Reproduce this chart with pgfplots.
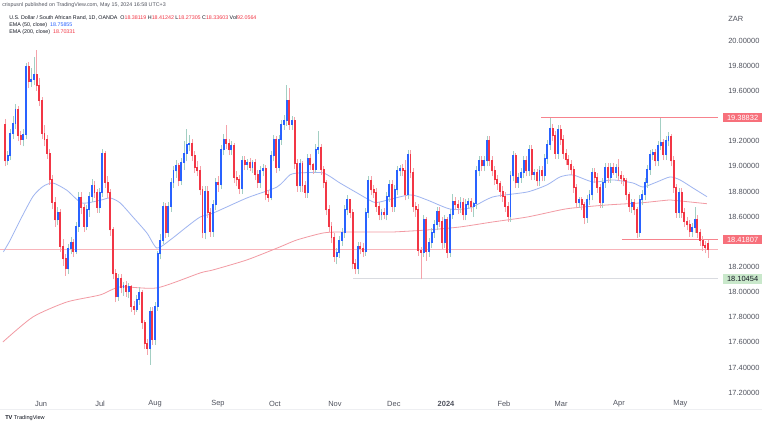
\documentclass[border=0pt]{standalone}
\usepackage{fontspec}
\setmainfont{Liberation Sans}
\usepackage{pgfplots}
\pgfplotsset{compat=1.18}
\usepackage{pgfplotstable}
\definecolor{upc}{HTML}{2962FF}
\definecolor{dnc}{HTML}{F23645}
\definecolor{upw}{HTML}{A3CFC3}
\definecolor{dnw}{HTML}{F5A3AA}
\definecolor{ema50}{HTML}{9FB5F0}
\definecolor{ema200}{HTML}{F29AA3}
\definecolor{tvtext}{HTML}{131722}
\definecolor{tvgray}{HTML}{50535E}
\definecolor{tagred}{HTML}{F7707B}
\definecolor{taggreen}{HTML}{C9E8CB}
\definecolor{levelpink}{HTML}{F7838D}
\definecolor{lastpink}{HTML}{F8B4BA}
\definecolor{levelgrey}{HTML}{D9DBE0}
\definecolor{sepgrey}{HTML}{EEEFF2}

% columns: d = 1 for a rising (blue) candle, 0 for a falling (red) one; o h l c
\pgfplotstableread{
d o h l c
0 19.33 19.38 19.00 19.04
1 19.04 19.12 19.01 19.08
1 19.08 19.30 19.05 19.26
1 19.26 19.40 19.22 19.34
1 19.34 19.50 19.30 19.45
0 19.45 19.48 19.20 19.24
0 19.24 19.28 19.17 19.21
1 19.21 19.30 19.16 19.25
1 19.25 19.82 19.22 19.79
0 19.79 19.83 19.62 19.67
1 19.67 19.78 19.63 19.69
1 19.69 19.87 19.65 19.73
0 19.73 19.93 19.60 19.64
0 19.64 19.70 19.48 19.52
0 19.52 19.55 19.22 19.26
0 19.26 19.33 19.16 19.21
0 19.21 19.25 19.06 19.10
0 19.10 19.14 18.85 18.89
0 18.89 18.93 18.66 18.71
0 18.71 18.76 18.52 18.57
1 18.57 18.68 18.53 18.63
0 18.63 18.66 18.32 18.36
0 18.36 18.42 18.21 18.26
0 18.26 18.30 18.13 18.18
1 18.18 18.38 18.14 18.34
1 18.34 18.44 18.30 18.39
0 18.39 18.42 18.28 18.32
1 18.32 18.56 18.30 18.52
1 18.52 18.80 18.48 18.75
0 18.75 18.80 18.62 18.67
0 18.67 18.70 18.48 18.52
1 18.52 18.69 18.49 18.65
1 18.65 18.80 18.60 18.76
1 18.76 18.90 18.72 18.84
0 18.84 18.88 18.75 18.79
0 18.79 18.82 18.63 18.67
1 18.67 18.83 18.63 18.79
1 18.79 19.14 18.76 19.10
0 19.10 19.12 18.83 18.87
0 18.87 18.92 18.75 18.79
0 18.79 18.82 18.45 18.49
0 18.49 18.52 18.10 18.14
0 18.14 18.18 17.92 17.96
1 17.96 18.14 17.93 18.10
0 18.10 18.14 17.99 18.03
1 18.03 18.08 17.97 18.05
0 18.05 18.09 17.96 18.00
1 18.00 18.07 17.95 18.04
0 18.04 18.06 17.84 17.88
0 17.88 17.93 17.82 17.86
1 17.86 17.98 17.84 17.94
1 17.94 18.04 17.90 17.99
0 17.99 18.02 17.71 17.75
0 17.75 17.78 17.55 17.59
0 17.59 17.63 17.50 17.55
1 17.55 17.88 17.42 17.84
0 17.84 17.88 17.58 17.62
1 17.62 17.92 17.58 17.88
1 17.88 18.33 17.85 18.30
1 18.30 18.46 18.26 18.41
1 18.41 18.72 18.38 18.68
0 18.68 18.71 18.43 18.47
1 18.47 18.72 18.44 18.68
1 18.68 18.91 18.64 18.87
1 18.87 19.00 18.83 18.96
1 18.96 19.05 18.91 19.00
0 19.00 19.03 18.84 18.88
1 18.88 19.07 18.85 19.03
1 19.03 19.20 18.97 19.10
1 19.10 19.30 19.04 19.17
1 19.17 19.25 19.12 19.18
0 19.18 19.22 19.04 19.08
0 19.08 19.12 18.95 18.99
0 18.99 19.04 18.92 18.96
0 18.96 19.00 18.77 18.81
0 18.81 18.84 18.43 18.47
1 18.47 18.84 18.42 18.80
0 18.80 18.84 18.59 18.63
0 18.63 18.67 18.44 18.48
1 18.48 18.73 18.44 18.69
1 18.69 18.91 18.65 18.87
0 18.87 18.92 18.80 18.85
1 18.85 19.17 18.82 19.13
1 19.13 19.26 19.09 19.21
0 19.21 19.33 19.14 19.18
0 19.18 19.22 19.09 19.13
1 19.13 19.20 19.09 19.16
0 19.16 19.19 18.87 18.91
0 18.91 18.96 18.84 18.89
0 18.89 18.93 18.78 18.82
1 18.82 19.08 18.78 19.04
0 19.04 19.08 18.97 19.01
1 19.01 19.06 18.97 19.03
0 19.03 19.07 18.96 18.99
1 18.99 19.05 18.95 19.03
0 19.03 19.06 18.89 18.93
0 18.93 18.97 18.83 18.87
1 18.87 19.00 18.83 18.96
1 18.96 19.02 18.92 18.98
0 18.98 19.01 18.73 18.77
0 18.77 18.81 18.72 18.75
1 18.75 19.12 18.73 19.08
1 19.08 19.25 19.04 19.21
0 19.21 19.24 18.95 18.99
1 18.99 19.25 18.96 19.21
1 19.21 19.37 19.17 19.33
1 19.33 19.41 19.29 19.36
1 19.36 19.65 19.32 19.52
0 19.52 19.62 19.29 19.33
1 19.33 19.40 19.29 19.36
0 19.36 19.39 18.98 19.02
0 19.02 19.06 18.80 18.84
1 18.84 19.06 18.80 19.02
0 19.02 19.04 18.80 18.84
0 18.84 18.88 18.75 18.79
1 18.79 19.10 18.75 19.06
0 19.06 19.10 18.97 19.01
0 19.01 19.03 18.94 18.97
1 18.97 19.18 18.95 19.13
1 19.13 19.28 19.10 19.15
0 19.15 19.18 18.93 18.97
0 18.97 19.00 18.83 18.87
0 18.87 18.89 18.61 18.65
0 18.65 18.69 18.48 18.52
0 18.52 18.56 18.39 18.43
0 18.43 18.47 18.24 18.28
1 18.28 18.35 18.22 18.31
1 18.31 18.45 18.27 18.41
1 18.41 18.51 18.37 18.47
1 18.47 18.69 18.43 18.65
1 18.65 18.77 18.61 18.73
0 18.73 18.74 18.59 18.63
0 18.63 18.66 18.18 18.22
0 18.22 18.26 18.14 18.18
1 18.18 18.40 18.14 18.36
0 18.36 18.40 18.30 18.34
0 18.34 18.39 18.28 18.32
1 18.32 18.67 18.29 18.63
1 18.63 18.92 18.59 18.88
0 18.88 18.92 18.77 18.81
0 18.81 18.85 18.75 18.79
0 18.79 18.83 18.64 18.68
0 18.68 18.72 18.57 18.61
1 18.61 18.66 18.57 18.63
0 18.63 18.67 18.58 18.61
1 18.61 18.80 18.57 18.76
1 18.76 18.89 18.72 18.85
0 18.85 18.89 18.64 18.68
1 18.68 18.85 18.64 18.81
1 18.81 19.00 18.77 18.96
1 18.96 19.01 18.92 18.98
0 18.98 19.02 18.92 18.96
0 18.96 19.05 18.73 18.77
1 18.77 19.13 18.74 19.09
0 19.09 19.13 18.91 18.95
0 18.95 18.99 18.64 18.68
0 18.68 18.72 18.60 18.65
0 18.65 18.70 18.29 18.33
0 18.33 18.36 18.10 18.31
1 18.31 18.61 18.28 18.57
0 18.57 18.60 18.25 18.32
1 18.32 18.43 18.28 18.39
1 18.39 18.51 18.35 18.47
1 18.47 18.57 18.43 18.53
1 18.53 18.68 18.49 18.64
0 18.64 18.68 18.52 18.56
0 18.56 18.60 18.34 18.39
1 18.39 18.61 18.35 18.57
0 18.57 18.60 18.27 18.31
1 18.31 18.66 18.28 18.61
1 18.61 18.78 18.58 18.72
0 18.72 18.76 18.65 18.69
0 18.69 18.73 18.62 18.67
1 18.67 18.76 18.63 18.71
0 18.71 18.75 18.57 18.61
1 18.61 18.74 18.57 18.69
1 18.69 18.75 18.66 18.72
0 18.72 18.75 18.64 18.68
1 18.68 18.72 18.60 18.70
1 18.70 19.00 18.66 18.96
1 18.96 19.08 18.92 19.04
0 19.04 19.08 18.96 19.00
1 19.00 19.08 18.96 19.04
1 19.04 19.24 19.00 19.20
0 19.20 19.24 19.00 19.04
0 19.04 19.08 18.92 18.96
0 18.96 19.00 18.85 18.89
0 18.89 18.93 18.81 18.86
0 18.86 18.88 18.76 18.80
0 18.80 18.84 18.72 18.76
0 18.76 18.80 18.64 18.68
0 18.68 18.72 18.56 18.60
1 18.60 18.96 18.56 18.92
1 18.92 19.12 18.88 19.08
0 19.08 19.11 18.83 18.87
1 18.87 18.95 18.83 18.91
1 18.91 18.99 18.87 18.95
1 18.95 19.08 18.91 19.04
0 19.04 19.08 18.92 18.96
1 18.96 19.17 18.92 19.13
0 19.13 19.17 18.89 18.93
1 18.93 18.98 18.89 18.95
0 18.95 18.98 18.84 18.88
1 18.88 19.00 18.84 18.96
0 18.96 19.00 18.88 18.92
1 18.92 19.10 18.88 19.06
1 19.06 19.21 19.02 19.17
1 19.17 19.388 19.13 19.30
0 19.30 19.34 19.20 19.24
0 19.24 19.28 19.06 19.10
1 19.10 19.33 19.06 19.29
0 19.29 19.33 19.17 19.21
0 19.21 19.25 19.06 19.10
0 19.10 19.14 19.01 19.05
0 19.05 19.09 18.97 19.01
0 19.01 19.05 18.93 18.97
0 18.97 19.00 18.79 18.83
0 18.83 18.86 18.67 18.71
1 18.71 18.76 18.67 18.73
0 18.73 18.76 18.65 18.69
0 18.69 18.72 18.54 18.59
1 18.59 18.77 18.55 18.73
1 18.73 18.81 18.69 18.77
1 18.77 18.99 18.73 18.95
0 18.95 18.99 18.87 18.91
0 18.91 18.95 18.79 18.83
0 18.83 18.86 18.67 18.71
1 18.71 18.91 18.67 18.87
1 18.87 19.03 18.83 18.99
0 18.99 19.03 18.87 18.91
1 18.91 19.03 18.87 18.99
0 18.99 19.03 18.93 18.95
1 18.95 19.02 18.91 18.99
0 18.99 19.06 18.88 18.92
0 18.92 18.96 18.86 18.90
0 18.90 18.93 18.84 18.88
0 18.88 18.91 18.73 18.77
0 18.77 18.80 18.64 18.68
1 18.68 18.74 18.63 18.71
0 18.71 18.74 18.61 18.65
0 18.65 18.68 18.43 18.47
1 18.47 18.77 18.44 18.73
1 18.73 18.81 18.69 18.77
1 18.77 18.91 18.73 18.87
1 18.87 19.01 18.83 18.97
1 18.97 19.13 18.93 19.09
1 19.09 19.14 19.05 19.11
0 19.11 19.14 19.00 19.04
1 19.04 19.20 19.00 19.16
1 19.16 19.388 19.13 19.19
0 19.19 19.22 19.05 19.09
1 19.09 19.24 19.05 19.20
1 19.20 19.27 19.16 19.23
0 19.23 19.26 19.00 19.04
0 19.04 19.08 18.79 18.83
0 18.83 18.86 18.59 18.63
1 18.63 18.83 18.59 18.79
0 18.79 18.83 18.59 18.63
0 18.63 18.67 18.52 18.56
0 18.56 18.60 18.49 18.53
0 18.53 18.57 18.44 18.48
1 18.48 18.55 18.44 18.51
1 18.51 18.68 18.47 18.57
0 18.57 18.61 18.43 18.47
0 18.47 18.50 18.37 18.41
0 18.41 18.45 18.33 18.37
0 18.37 18.41 18.31 18.35
0 18.381 18.412 18.273 18.336
}\candles

\begin{document}
\begin{tikzpicture}
\path[use as bounding box, fill=white] (0pt,0pt) rectangle (576pt,320.25pt);
\begin{axis}[
  at={(0pt,23.25pt)}, anchor=south west,
  scale only axis, width=538.5pt, height=297pt,
  xmin=-1.9, xmax=270.8, ymin=17.173, ymax=20.324,
  axis line style={draw=none},
  major tick length=0pt,
  clip=false,
  yticklabel pos=right,
  ytick={17.2,17.4,17.6,17.8,18.0,18.2,18.6,18.8,19.0,19.2,19.6,19.8,20.0},
  yticklabel style={font=\fontsize{5.6}{6}\selectfont, text=tvgray, anchor=west, inner sep=0pt, xshift=7.5pt,
    /pgf/number format/fixed, /pgf/number format/fixed zerofill, /pgf/number format/precision=5,
    /pgf/number format/assume math mode=true},
  xtick={13.7,36.1,57.0,80.9,102.5,125.3,147.7,167.5,189.5,211.2,233.2,256.5},
  xticklabels={Jun,Jul,Aug,Sep,Oct,Nov,Dec,\textbf{2024},Feb,Mar,Apr,May},
  xticklabel style={font=\fontsize{5.6}{6}\selectfont, text=tvgray, anchor=center, inner sep=0pt, yshift=-6pt},
]
% reference lines
\addplot[draw=lastpink, line width=0.8pt] coordinates {(-1.9,18.336) (270.8,18.336)};
\addplot[draw=levelgrey, line width=0.8pt] coordinates {(132.2,18.10454) (270.8,18.10454)};
\addplot[draw=levelpink, line width=0.8pt] coordinates {(203.6,19.38832) (270.8,19.38832)};
\addplot[draw=levelpink, line width=0.8pt] coordinates {(234.3,18.41807) (270.8,18.41807)};
% EMA 200
\addplot[ema200, line width=0.6pt, smooth, tension=0.4] coordinates {
(-0.8,17.603) (10.6,17.802) (23.5,17.921) (36.1,17.977) (43.7,18.041) (57.7,18.033)
(74.1,18.152) (79.0,18.176) (91.9,18.256) (104.4,18.359) (110.9,18.415) (120.8,18.470)
(127.2,18.478) (142.4,18.478) (147.4,18.478) (160.3,18.494) (172.8,18.518) (185.3,18.558)
(198.3,18.597) (210.8,18.653) (215.7,18.669) (228.6,18.693) (241.2,18.709) (252.6,18.733)
(256.4,18.725) (266.6,18.703)};
% EMA 50
\addplot[ema50, line width=0.6pt, smooth, tension=0.4] coordinates {
(-0.6,18.32) (1.9,18.41) (5.7,18.57) (10.6,18.76) (14.4,18.84) (18.2,18.868) (23.5,18.81)
(29.2,18.709) (36.1,18.73) (39.9,18.749) (43.7,18.71) (48.6,18.597) (53.9,18.47) (57.7,18.35)
(62.7,18.414) (69.1,18.52) (74.1,18.597) (79.0,18.628) (91.9,18.749) (103.3,18.836)
(108.2,18.932) (112.0,18.948) (120.8,18.948) (127.2,18.868) (133.7,18.789) (139.8,18.717)
(142.4,18.717) (153.8,18.773) (160.3,18.733) (169.0,18.661) (176.6,18.669) (185.3,18.757)
(198.3,18.796) (205.8,18.852) (210.8,18.916) (215.7,18.932) (223.3,18.876) (230.9,18.892)
(238.5,18.868) (242.3,18.836) (247.6,18.876) (252.6,18.916) (256.4,18.892) (261.3,18.828)
(266.6,18.759)};
% wicks: segments from low to high (zero length for the other direction)
\addplot[forget plot, mark=none, draw=upw, line width=0.45pt,
  quiver={u=0, v={\thisrow{d}*(\thisrow{h}-\thisrow{l})}}] table[x expr=\coordindex, y=l] {\candles};
\addplot[forget plot, mark=none, draw=dnw, line width=0.45pt,
  quiver={u=0, v={(1-\thisrow{d})*(\thisrow{h}-\thisrow{l})}}] table[x expr=\coordindex, y=l] {\candles};
% bodies: segments from open to close
\addplot[forget plot, mark=none, draw=upc, line width=1.45pt,
  quiver={u=0, v={\thisrow{d}*(\thisrow{c}-\thisrow{o}+0.008)}}] table[x expr=\coordindex, y=o] {\candles};
\addplot[forget plot, mark=none, draw=dnc, line width=1.45pt,
  quiver={u=0, v={(1-\thisrow{d})*(\thisrow{o}-\thisrow{c}+0.008)}}] table[x expr=\coordindex, y=c] {\candles};
% price tags
\node[fill=tagred, text=white, font=\fontsize{5.6}{6}\selectfont, inner sep=0pt, minimum width=29pt, minimum height=7pt, anchor=west]
  at (axis cs:270.8,19.38832) [xshift=3.75pt] {19.38832};
\node[fill=tagred, text=white, font=\fontsize{5.6}{6}\selectfont, inner sep=0pt, minimum width=29pt, minimum height=7pt, anchor=west]
  at (axis cs:270.8,18.41807) [xshift=3.75pt] {18.41807};
\node[fill=taggreen, text=tvtext, font=\fontsize{5.6}{6}\selectfont, inner sep=0pt, minimum width=29pt, minimum height=7pt, anchor=west]
  at (axis cs:270.8,18.10454) [xshift=3.75pt] {18.10454};
\end{axis}
\begin{scope}[yshift=320.25pt, x=0.75pt, y=-0.75pt]
\draw[sepgrey, line width=0.75pt] (0,410) -- (762,410);
\node[anchor=west, inner sep=0pt, font=\fontsize{4}{5}\selectfont, text=tvgray] at (2,5)
  {crispusnl published on TradingView.com, May 15, 2024 16:58 UTC+3};
\node[anchor=west, inner sep=0pt, font=\fontsize{4}{5}\selectfont, text=tvtext] at (9,17.5)
  {U.S. Dollar / South African Rand, 1D, OANDA\ \ O\textcolor{dnc}{18.38119}\ H\textcolor{dnc}{18.41242}\ L\textcolor{dnc}{18.27305}\ C\textcolor{dnc}{18.33603}\ Vol\textcolor{dnc}{92.0564}};
\node[anchor=west, inner sep=0pt, font=\fontsize{4}{5}\selectfont, text=tvtext] at (9,25)
  {EMA (50, close)\ \ \textcolor{upc}{18.75855}};
\node[anchor=west, inner sep=0pt, font=\fontsize{4}{5}\selectfont, text=tvtext] at (9,32.3)
  {EMA (200, close)\ \ \textcolor{dnc}{18.70331}};
\node[anchor=west, inner sep=0pt, font=\fontsize{5.6}{6}\selectfont, text=tvgray] at (728,18.5) {ZAR};
\node[anchor=west, inner sep=0pt, font=\fontsize{4.2}{5}\selectfont, text=tvtext] at (5,418)
  {\textbf{TV}\ TradingView};
\end{scope}
\end{tikzpicture}
\end{document}
